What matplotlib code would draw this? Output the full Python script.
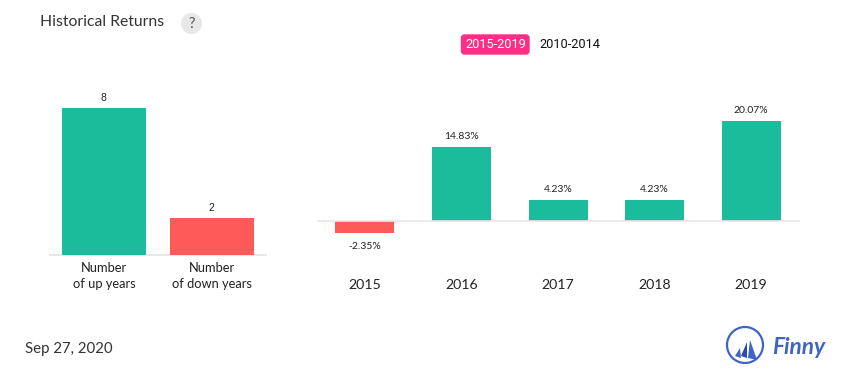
import matplotlib
matplotlib.use("Agg")
import matplotlib.pyplot as plt
from matplotlib.patches import FancyBboxPatch, Circle, Polygon

W, H = 855, 382
GREEN, RED = "#1abc9c", "#ff5a5a"
PINK = "#fb2f86"
BLUE = "#3f64c4"
GRID = "#e8e8e8"
INK = "#333333"

count_labels = ["Number", "Number"]
count_sublabels = ["of up years", "of down years"]
count_values = [8, 2]
years = ["2015", "2016", "2017", "2018", "2019"]
returns = [-2.35, 14.83, 4.23, 4.23, 20.07]
return_labels = ["-2.35%", "14.83%", "4.23%", "4.23%", "20.07%"]

plt.rcParams["font.family"] = ["Lato", "DejaVu Sans"]
fig = plt.figure(figsize=(W / 100, H / 100), dpi=100, facecolor="white")


def px_axes(x0, y0, x1, y1, **kw):
    return fig.add_axes([x0 / W, 1 - y1 / H, (x1 - x0) / W, (y1 - y0) / H], **kw)


def clean(ax):
    for s in ax.spines.values():
        s.set_visible(False)
    ax.patch.set_alpha(0)


# left panel
a = px_axes(50, 108, 266, 255)
clean(a)
a.set_xlim(-0.5, 1.5)
a.set_ylim(0, 8)
colors = [GREEN, RED]
a.bar(range(2), count_values, width=84 / 108, color=colors, zorder=2)
a.axhline(0, color=GRID, lw=1.5, zorder=1, clip_on=False)
for i, v in enumerate(count_values):
    a.annotate(str(v), (i, v), xytext=(-0.3, 3.6), textcoords="offset points",
               ha="center", va="bottom", fontsize=7.5,
               family=["Liberation Sans"], color="#222222")
a.set_xticks(range(2), [f"{m}\n{s}" for m, s in zip(count_labels, count_sublabels)])
a.set_yticks([])
a.tick_params(axis="x", length=0, pad=5, labelsize=9.25, labelcolor="#222222")
for t in a.get_xticklabels():
    t.set_linespacing(1.42)

# right panel: 4.98 px per percentage point, zero at y=221
a2 = px_axes(316.5, 121, 799.5, 233)
clean(a2)
a2.set_xlim(-0.5, 4.5)
a2.set_ylim(-12 / 4.98, 100 / 4.98)
bar_colors = [GREEN if v >= 0 else RED for v in returns]
a2.bar(range(5), returns, width=59 / 96.6, color=bar_colors, zorder=2)
a2.axhline(0, color=GRID, lw=1.2, zorder=3)
for i, (v, s) in enumerate(zip(returns, return_labels)):
    off = 4.4 if v >= 0 else -6.8
    a2.annotate(s, (i, v), xytext=(0, off), textcoords="offset points",
                ha="center", va="bottom" if v >= 0 else "top",
                fontsize=7.5, color="#222222")
a2.set_xticks(range(5), years)
a2.set_yticks([])
a2.tick_params(axis="x", length=0, pad=33, labelsize=10.2, labelcolor="#222222")

# page overlay in pixel coordinates
o = fig.add_axes([0, 0, 1, 1], zorder=5)
o.set_xlim(0, W)
o.set_ylim(H, 0)
o.axis("off")
o.text(40, 22.5, "Historical Returns", fontsize=11.3, color=INK, va="center", ha="left")
o.add_patch(Circle((191.5, 23.5), 10.5, color="#e8e8e8", lw=0))
o.text(191.5, 23.5, "?", fontsize=10.5, color="#555555", ha="center", va="center")
o.add_patch(FancyBboxPatch((461.5, 35), 67.5, 19, boxstyle="round,pad=0,rounding_size=3",
                           fc=PINK, ec=PINK, lw=1))
o.text(496, 44.8, "2015-2019", fontsize=9.2, color="white", ha="center", va="center",
       family=["Roboto"])
o.text(570, 44.8, "2010-2014", fontsize=9.2, color="#111111", ha="center", va="center",
       family=["Roboto"])
o.text(25, 349, "Sep 27, 2020", fontsize=10.8, color=INK, va="center", ha="left")

# logo
o.add_patch(Circle((745, 345), 18, fc="none", ec=BLUE, lw=1.6))
o.add_patch(Polygon([[735, 356], [740, 348], [741, 358]], fc=BLUE, lw=0))
o.add_patch(Polygon([[741, 356], [747, 342], [747, 358]], fc="#2a4bb0", lw=0))
o.add_patch(Polygon([[748, 358], [750, 340], [757, 360]], fc=BLUE, lw=0))
o.text(772, 347.5, "Finny", fontsize=16.3, color=BLUE, style="italic", weight="bold",
       va="center", ha="left", family=["Lato"])

fig.savefig("out.png", dpi=100, facecolor="white")
